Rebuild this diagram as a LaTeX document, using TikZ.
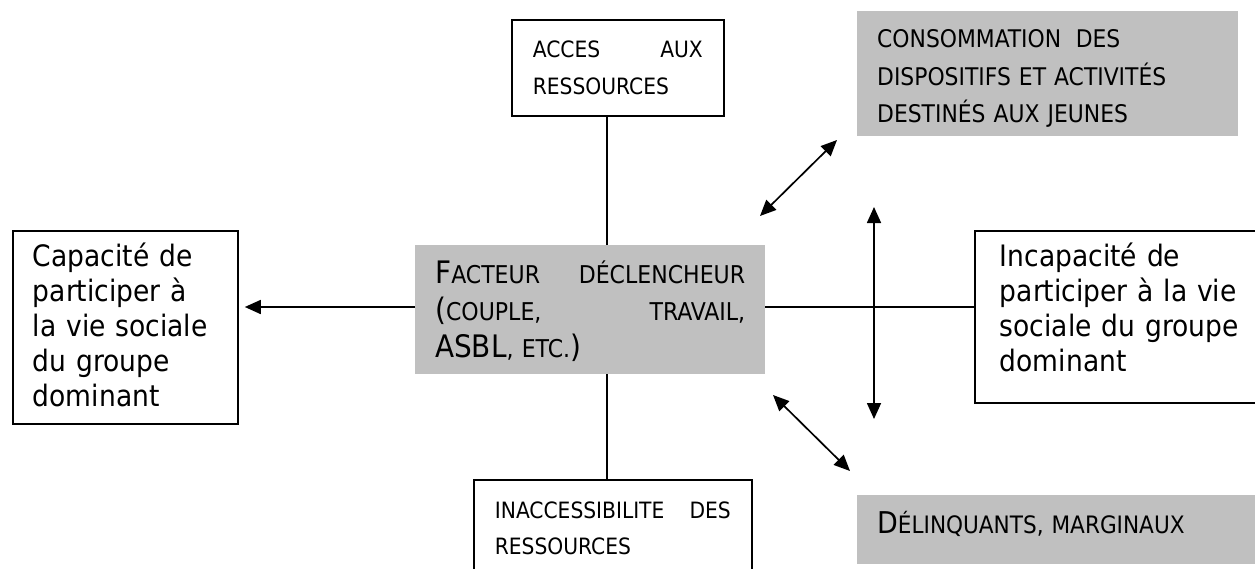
\documentclass[tikz,border=0pt]{standalone}
\usepackage{fontspec}
\setmainfont{DejaVu Sans Condensed}
\usetikzlibrary{arrows.meta}
\definecolor{boxgray}{HTML}{C0C0C0}
\newcommand{\bigc}[1]{{\fontsize{30}{37}\selectfont #1}}
\newcommand{\bigcc}[1]{{\fontsize{31}{37}\selectfont #1}}
\tikzset{
  box/.style={draw=black, line width=1.8pt, anchor=north west, align=left, inner ysep=0pt},
  graybox/.style={fill=boxgray, draw=none, anchor=north west, align=left, inner ysep=0pt},
  link/.style={line width=1.7pt},
  tip/.style={line width=1.7pt, -{Triangle[length=16pt,width=14pt]}},
  dtip/.style={line width=1.7pt, {Triangle[length=16pt,width=14pt]}-{Triangle[length=16pt,width=14pt]}},
  mainfont/.style={font=\fontsize{29.5}{35}\selectfont},
  capsfont/.style={font=\fontsize{22.5}{37}\selectfont},
}
\begin{document}
\begin{tikzpicture}[x=1pt,y=-1pt]
\useasboundingbox (0,0) rectangle (1255,568);
\clip (0,0) rectangle (1255,568);
\fill[white] (0,0) rectangle (1255,568);

% boxes
\node[box, capsfont, minimum width=212pt, minimum height=96pt, text width=170pt, inner xsep=21pt]
  (acces) at (511,19) {ACCES\hfill AUX\\RESSOURCES};
\node[graybox, font=\fontsize{24.5}{37}\selectfont, minimum width=350pt, minimum height=129pt, text width=310pt, inner xsep=20pt]
  (fact) at (415,245) {\rule{0pt}{26pt}\bigcc{F}ACTEUR\hfill DÉCLENCHEUR\\\bigcc{(}COUPLE,\hfill TRAVAIL,\\\bigcc{ASBL}, ETC.\bigcc{)}};
\node[box, mainfont, minimum width=225pt, minimum height=193pt, text width=185pt, inner xsep=20pt]
  (cap) at (12,230) {Capacité de\\participer à\\la vie sociale\\du groupe\\dominant\rule[-6pt]{0pt}{0pt}};
\node[box, mainfont, minimum width=300pt, minimum height=172pt, text width=250pt, inner xsep=21pt]
  (incap) at (974,230) {Incapacité de\\participer à la vie\\sociale du groupe\\dominant\rule[-19pt]{0pt}{0pt}};
\node[graybox, font=\fontsize{24.3}{37.5}\selectfont, minimum width=381pt, minimum height=125pt, text width=341pt, inner xsep=20pt]
  (conso) at (857,11) {\rule{0pt}{28pt}CONSOMMATION\hspace{0.6em}DES\\DISPOSITIFS ET ACTIVITÉS\\DESTINÉS AUX JEUNES};
\node[box, font=\fontsize{22.5}{36}\selectfont, minimum width=278pt, minimum height=97pt, text width=236pt, inner xsep=21pt]
  (inacc) at (473,479) {INACCESSIBILITE\hfill DES\\RESSOURCES};
\node[graybox, font=\fontsize{24}{30}\selectfont, minimum width=420pt, minimum height=69pt, text width=380pt, inner xsep=20pt]
  (delin) at (857,495) {\bigc{D}ÉLINQUANTS, MARGINAUX\rule[-15pt]{0pt}{0pt}};

% guide coordinates
\coordinate (vx) at (607,0);
\coordinate (hy) at (0,307);
\coordinate (va) at (874,207);
\coordinate (vb) at (874,419);
\coordinate (d1a) at (760,216);
\coordinate (d1b) at (837,140);
\coordinate (d2a) at (773,395);
\coordinate (d2b) at (850,471);

% connectors
\draw[link] (acces.south -| vx) -- (fact.north -| vx);
\draw[link] (fact.south -| vx) -- (inacc.north -| vx);
\draw[tip, shorten >=6pt] (fact.west |- hy) -- (cap.east |- hy);
\draw[link] (fact.east |- hy) -- (incap.west |- hy);
\draw[dtip] (va) -- (vb);
\draw[dtip] (d1a) -- (d1b);
\draw[dtip] (d2a) -- (d2b);
\end{tikzpicture}
\end{document}
